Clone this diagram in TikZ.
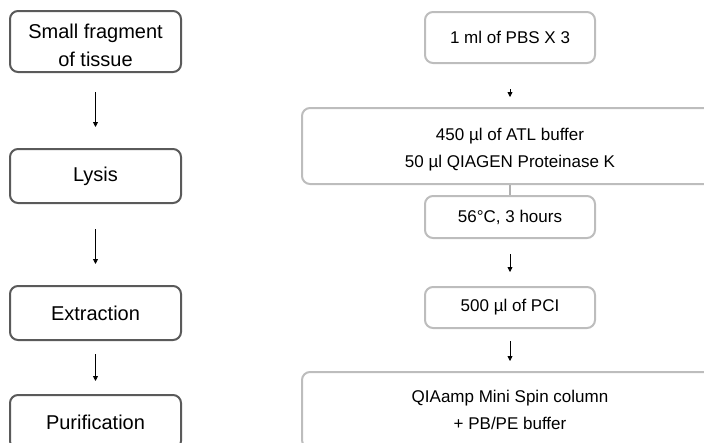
\documentclass[tikz,border=0pt]{standalone}
\usepackage{fontspec}
\setmainfont{Liberation Sans}
\usetikzlibrary{arrows.meta}
\definecolor{ink}{HTML}{000000}
\definecolor{stepdark}{HTML}{5A5A5A}
\definecolor{steplight}{HTML}{BDBDBD}
\definecolor{linkgray}{HTML}{B0B0B0}
\newcommand{\padtop}[1]{\rule{0pt}{#1}}

\begin{document}
\begin{tikzpicture}[
  x=1pt, y=-1pt,
  stage/.style={draw=stepdark, line width=2pt, rounded corners=8pt, inner sep=0pt,
    minimum width=171pt, align=center, text=ink, font=\fontsize{20}{28}\selectfont},
  reagent/.style={draw=steplight, line width=2pt, rounded corners=8pt, inner sep=0pt,
    align=center, text=ink, font=\fontsize{17}{27}\selectfont},
  small/.style={reagent, minimum width=170pt},
  wide/.style={reagent, minimum width=416pt, minimum height=76pt},
  flow/.style={draw=ink, line width=0.8pt, -{Triangle[length=5pt, width=5pt]}},
  link/.style={draw=linkgray, line width=1.8pt}
]
\path[use as bounding box, clip] (0,0) rectangle (704,442);

% left column: main stages
\node[stage, minimum height=61pt] (tissue) at (95.5,41.5) {\padtop{22pt}Small fragment\\of tissue};
\node[stage, minimum height=54pt] (lysis) at (95.5,176) {Lysis};
\node[stage, minimum height=54pt] (extract) at (95.5,313) {Extraction};
\node[stage, minimum height=54pt] (purify) at (95.5,422) {Purification};

\draw[flow, shorten <=19pt, shorten >=21pt] (tissue) -- (lysis);
\draw[flow, shorten <=25pt, shorten >=21pt] (lysis) -- (extract);
\draw[flow, shorten <=13pt, shorten >=13pt] (extract) -- (purify);

% right column: reagents and conditions
\node[small, minimum height=51pt] (pbs) at (510,37.5) {1 ml of PBS X 3};
\node[wide] (atl) at (510,146) {\padtop{19pt}450 µl of ATL buffer\\50 µl QIAGEN Proteinase K};
\node[small, minimum height=42pt] (heat) at (510,217) {56°C, 3 hours};
\node[small, minimum height=41pt] (pci) at (510,307.5) {500 µl of PCI};
\node[wide] (column) at (510,410) {QIAamp Mini Spin column\\+ PB/PE buffer};

\draw[flow, shorten <=25pt, shorten >=10pt] (pbs) -- (atl);
\draw[link] (atl) -- (heat);
\draw[flow, shorten <=15pt, shorten >=14pt] (heat) -- (pci);
\draw[flow, shorten <=12pt, shorten >=10pt] (pci) -- (column);
\end{tikzpicture}
\end{document}
